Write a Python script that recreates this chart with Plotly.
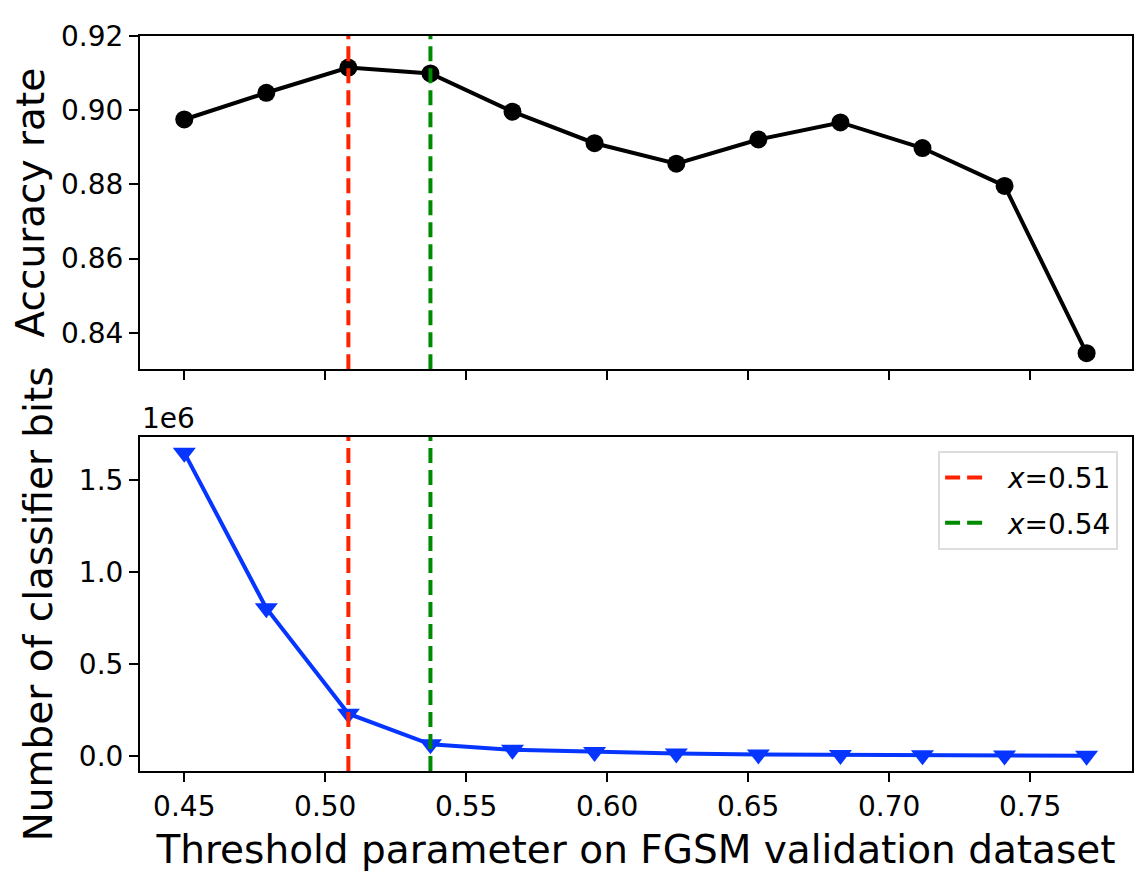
"""Accuracy and classifier size against the FGSM threshold parameter."""

import plotly.graph_objects as go
from plotly.subplots import make_subplots

# threshold values swept on the FGSM validation set
thresholds = [0.4500, 0.4791, 0.5082, 0.5373, 0.5664, 0.5955,
              0.6245, 0.6536, 0.6827, 0.7118, 0.7409, 0.7700]
accuracy = [0.8975, 0.9047, 0.9115, 0.9099, 0.8996, 0.8911,
            0.8856, 0.8921, 0.8967, 0.8898, 0.8796, 0.8345]
classifier_bits = [1.648e6, 0.803e6, 0.230e6, 0.064e6, 0.034e6, 0.022e6,
                   0.014e6, 0.009e6, 0.006e6, 0.004e6, 0.003e6, 0.002e6]

# chosen thresholds drawn as dashed markers
marker_x = [0.5082, 0.5373]
marker_labels = ["<i>x</i>=0.51", "<i>x</i>=0.54"]
marker_colors = ["#ff2200", "#008a00"]

acc_ticks = [0.84, 0.86, 0.88, 0.90, 0.92]
bits_ticks = [0.0, 0.5e6, 1.0e6, 1.5e6]
bits_ticktext = ["0.0", "0.5", "1.0", "1.5"]
x_ticks = [0.45, 0.50, 0.55, 0.60, 0.65, 0.70, 0.75]

ACC_RANGE = [0.8302, 0.92]
BITS_RANGE = [-0.081e6, 1.734e6]
X_RANGE = [0.4343, 0.7861]

FONT = "DejaVu Sans"
TICK_SIZE = 28
LABEL_SIZE = 39

fig = make_subplots(rows=2, cols=1, shared_xaxes=True, vertical_spacing=0.0)

fig.add_trace(
    go.Scatter(
        x=thresholds,
        y=accuracy,
        mode="lines+markers",
        line=dict(color="black", width=4),
        marker=dict(symbol="circle", size=18, color="black"),
        showlegend=False,
    ),
    row=1,
    col=1,
)

fig.add_trace(
    go.Scatter(
        x=thresholds,
        y=classifier_bits,
        mode="lines+markers",
        line=dict(color="#0535ff", width=4),
        marker=dict(symbol="triangle-down", size=20, color="#0535ff"),
        showlegend=False,
    ),
    row=2,
    col=1,
)

for xv, label, color in zip(marker_x, marker_labels, marker_colors):
    for row, yr in ((1, ACC_RANGE), (2, BITS_RANGE)):
        fig.add_trace(
            go.Scatter(
                x=[xv, xv],
                y=yr,
                mode="lines",
                line=dict(color=color, width=4, dash="15px,7px"),
                name="&nbsp;&nbsp;" + label,
                legendgroup=label,
                showlegend=(row == 2),
                hoverinfo="skip",
            ),
            row=row,
            col=1,
        )

axis_common = dict(
    showline=True,
    linecolor="black",
    linewidth=2,
    mirror=True,
    showgrid=False,
    zeroline=False,
    ticks="outside",
    ticklen=9,
    tickwidth=2,
    tickcolor="black",
    tickfont=dict(family=FONT, size=TICK_SIZE, color="black"),
)

fig.update_xaxes(**axis_common)
fig.update_yaxes(**axis_common)

fig.update_xaxes(
    range=X_RANGE, tickvals=x_ticks, showticklabels=False, row=1, col=1
)
fig.update_xaxes(
    range=X_RANGE,
    tickvals=x_ticks,
    tickformat=".2f",
    title=dict(
        text="Threshold parameter on FGSM validation dataset",
        font=dict(family=FONT, size=LABEL_SIZE, color="black"),
        standoff=14,
    ),
    row=2,
    col=1,
)
fig.update_yaxes(
    range=ACC_RANGE,
    tickvals=acc_ticks,
    tickformat=".2f",
    domain=[0.5467, 1.0],
    title=dict(
        text="Accuracy rate",
        font=dict(family=FONT, size=LABEL_SIZE, color="black"),
        standoff=14,
    ),
    row=1,
    col=1,
)
fig.update_yaxes(
    range=BITS_RANGE,
    tickvals=bits_ticks,
    ticktext=bits_ticktext,
    domain=[0.0, 0.4547],
    title=dict(
        text="Number of classifier bits",
        font=dict(family=FONT, size=LABEL_SIZE, color="black"),
        standoff=14,
    ),
    row=2,
    col=1,
)

fig.add_annotation(
    text="1e6",
    xref="x2 domain",
    yref="y2 domain",
    x=0,
    y=1,
    xanchor="left",
    yanchor="bottom",
    showarrow=False,
    font=dict(family=FONT, size=TICK_SIZE, color="black"),
)

# the page body adds an 8px offset, so the figure is sized 8px smaller
fig.update_layout(
    width=1140,
    height=868,
    margin=dict(l=132, r=16, t=25, b=104),
    paper_bgcolor="white",
    plot_bgcolor="white",
    font=dict(family=FONT, color="black"),
    legend=dict(
        x=0.986,
        y=0.4357,
        xanchor="right",
        yanchor="top",
        bgcolor="white",
        bordercolor="#dddddd",
        borderwidth=2,
        itemwidth=40,
        tracegroupgap=6,
        font=dict(family=FONT, size=TICK_SIZE, color="black"),
    ),
)

fig.write_html("out.html")
